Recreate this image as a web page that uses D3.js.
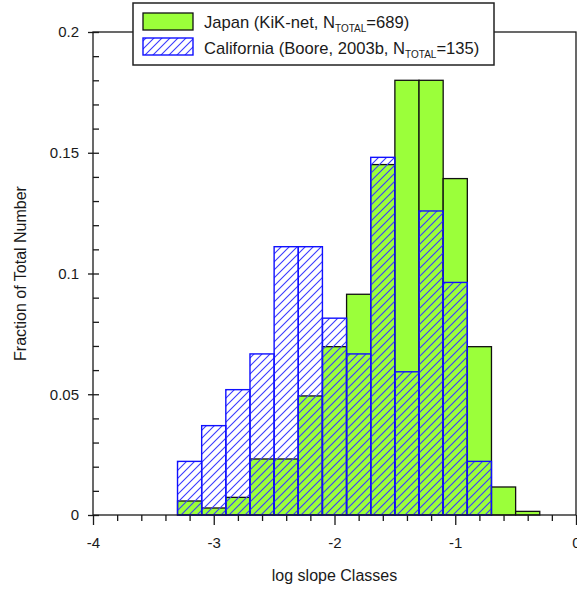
<!DOCTYPE html>
<html>
<head>
<meta charset="utf-8">
<script src="https://cdn.jsdelivr.net/npm/d3@7/dist/d3.min.js"></script>
<style>
  html, body { margin: 0; padding: 0; background: #fff; }
  svg { display: block; font-family: "Liberation Sans", Arial, sans-serif; }
</style>
</head>
<body>
<svg id="chart" width="577" height="590"></svg>
<script>
// Lower edge of each log-slope class (class width 0.2)
const classStarts = [-3.3, -3.1, -2.9, -2.7, -2.5, -2.3, -2.1, -1.9, -1.7, -1.5, -1.3, -1.1, -0.9, -0.7, -0.5];
const classWidth = 0.2;

// Fraction of total number per class
const japan = [0.0058, 0.0029, 0.0073, 0.0232, 0.0232, 0.0493, 0.0697, 0.0914, 0.1451, 0.1800, 0.1800, 0.1393, 0.0697, 0.0116, 0.0015];
const california = [0.0222, 0.0370, 0.0519, 0.0667, 0.1111, 0.1111, 0.0815, 0.0667, 0.1481, 0.0593, 0.1259, 0.0963, 0.0222, 0, 0];

// Axis ticks
const xMajorTicks = [-4, -3, -2, -1, 0];
const xMinorTicks = [-3.8, -3.6, -3.4, -3.2, -2.8, -2.6, -2.4, -2.2, -1.8, -1.6, -1.4, -1.2, -0.8, -0.6, -0.4, -0.2];
const yMajorTicks = [0, 0.05, 0.1, 0.15, 0.2];
const yMinorTicks = [0.01, 0.02, 0.03, 0.04, 0.06, 0.07, 0.08, 0.09, 0.11, 0.12, 0.13, 0.14, 0.16, 0.17, 0.18, 0.19];

// Legend entries
const legendLabels = [
  { pre: "Japan (KiK-net, N", sub: "TOTAL", post: "=689)" },
  { pre: "California (Boore, 2003b, N", sub: "TOTAL", post: "=135)" }
];

const svg = d3.select("#chart");
const plot = { left: 93, right: 576, top: 32, bottom: 515 };
const ink = "#1a1a1a";

const x = d3.scaleLinear().domain([-4, 0]).range([plot.left, plot.right]);
const y = d3.scaleLinear().domain([0, 0.2]).range([plot.bottom, plot.top]);

// Diagonal hatch for the California histogram
const defs = svg.append("defs");
const hatch = defs.append("pattern")
  .attr("id", "hatch")
  .attr("patternUnits", "userSpaceOnUse")
  .attr("width", 8).attr("height", 8);
hatch.append("path")
  .attr("d", "M-2,2 L2,-2 M0,8 L8,0 M6,10 L10,6")
  .attr("stroke", "#3a3aff")
  .attr("stroke-width", 1.1);

const binsJ = classStarts.map((s, i) => ({ x0: s, x1: s + classWidth, v: japan[i] }));
const binsC = classStarts.map((s, i) => ({ x0: s, x1: s + classWidth, v: california[i] })).filter(d => d.v > 0);

// Japan bars (solid green)
svg.append("g").selectAll("rect").data(binsJ).join("rect")
  .attr("x", d => x(d.x0))
  .attr("y", d => y(d.v))
  .attr("width", d => x(d.x1) - x(d.x0))
  .attr("height", d => y(0) - y(d.v))
  .attr("fill", "#9bff3a")
  .attr("stroke", "#111")
  .attr("stroke-width", 1.3);

// California bars (hatched, drawn over)
svg.append("g").selectAll("rect").data(binsC).join("rect")
  .attr("x", d => x(d.x0))
  .attr("y", d => y(d.v))
  .attr("width", d => x(d.x1) - x(d.x0))
  .attr("height", d => y(0) - y(d.v))
  .attr("fill", "url(#hatch)")
  .attr("stroke", "#1010ff")
  .attr("stroke-width", 1.4);

// Plot frame
svg.append("rect")
  .attr("x", plot.left).attr("y", plot.top)
  .attr("width", plot.right - plot.left).attr("height", plot.bottom - plot.top)
  .attr("fill", "none").attr("stroke", ink).attr("stroke-width", 1.3);

function styleAxis(g) {
  g.select(".domain").remove();
  g.selectAll(".tick line").attr("stroke", ink).attr("stroke-width", 1.3);
  g.selectAll(".tick text").attr("fill", ink).style("font-size", "15px")
    .style("font-family", "'Liberation Sans', Arial, sans-serif");
}

// X axis: majors with labels, minors below
svg.append("g")
  .attr("transform", `translate(0,${plot.bottom})`)
  .call(d3.axisBottom(x).tickValues(xMajorTicks).tickSize(10).tickPadding(12).tickFormat(d => String(d)))
  .call(styleAxis);
svg.append("g")
  .attr("transform", `translate(0,${plot.bottom})`)
  .call(d3.axisBottom(x).tickValues(xMinorTicks).tickSize(6).tickFormat(""))
  .call(styleAxis);

// Y axis: labelled majors outside, all ticks inside
svg.append("g")
  .attr("transform", `translate(${plot.left},0)`)
  .call(d3.axisLeft(y).tickValues(yMajorTicks).tickSize(5).tickPadding(9).tickFormat(d => String(d)))
  .call(styleAxis);
svg.append("g")
  .attr("transform", `translate(${plot.left},0)`)
  .call(d3.axisRight(y).tickValues(yMajorTicks.concat(yMinorTicks)).tickSize(6).tickFormat(""))
  .call(styleAxis);

// Axis titles
svg.append("text")
  .attr("x", (plot.left + plot.right) / 2).attr("y", 581)
  .attr("text-anchor", "middle")
  .attr("fill", ink).style("font-size", "16px")
  .text("log slope Classes");
svg.append("text")
  .attr("transform", `translate(26,${(plot.top + plot.bottom) / 2}) rotate(-90)`)
  .attr("text-anchor", "middle")
  .attr("fill", ink).style("font-size", "16px")
  .text("Fraction of Total Number");

// Legend
const lg = svg.append("g");
lg.append("rect")
  .attr("x", 133).attr("y", 3).attr("width", 361).attr("height", 62)
  .attr("fill", "#fff").attr("stroke", "#222").attr("stroke-width", 1.5);
lg.append("rect")
  .attr("x", 143).attr("y", 13).attr("width", 50).attr("height", 17)
  .attr("fill", "#9bff3a").attr("stroke", "#111").attr("stroke-width", 1.3);
lg.append("rect")
  .attr("x", 143).attr("y", 38).attr("width", 50).attr("height", 17)
  .attr("fill", "url(#hatch)").attr("stroke", "#1010ff").attr("stroke-width", 1.4);

legendLabels.forEach((l, i) => {
  const t = lg.append("text")
    .attr("x", 204).attr("y", 28 + i * 26)
    .attr("fill", ink).style("font-size", "16.6px");
  t.append("tspan").text(l.pre);
  t.append("tspan").attr("dy", 4).style("font-size", "10px").text(l.sub);
  t.append("tspan").attr("dy", -4).text(l.post);
});
</script>
</body>
</html>
